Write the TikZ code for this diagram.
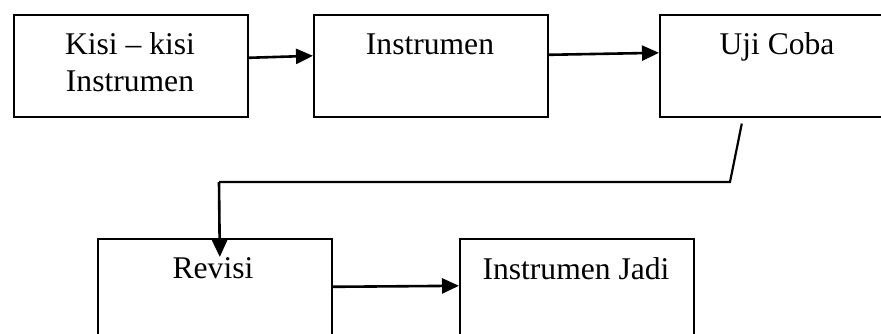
\documentclass[tikz,border=0pt]{standalone}
\usepackage{fontspec}
\setmainfont{Liberation Serif}
\usetikzlibrary{arrows.meta}
\begin{document}
\begin{tikzpicture}[x=1pt,y=-1pt,
  box/.style={draw=black, line width=1.6pt, minimum width=234pt, minimum height=102pt, inner sep=0pt, anchor=north west},
  lbl/.style={font=\fontsize{31.6}{37}\selectfont, inner sep=0pt, anchor=base, align=center},
  conn/.style={line width=2.6pt, -{Triangle[length=17pt,width=15pt]}},
  plain/.style={line width=2.2pt}]
\useasboundingbox (0,0) rectangle (881,334);
\clip (0,0) rectangle (881,334);
\fill[white] (0,0) rectangle (881,334);
\node[box] (b1) at (13,14) {};
\node[box] (b2) at (313,14) {};
\node[box] (b3) at (659,14) {};
\node[box] (b4) at (97,238) {};
\node[box] (b5) at (459,238) {};
\node[lbl] (t1) at (130,92) {Kisi – kisi\\Instrumen};
\node[lbl] (t2) at (430,55) {Instrumen};
\node[lbl] (t3) at (777,55) {Uji Coba};
\node[lbl] (t4) at (213,278) {Revisi};
\node[lbl] (t5) at (576,279) {Instrumen Jadi};
\draw[conn] ([yshift=8pt]b1.east) -- ([yshift=10pt]b2.west);
\draw[conn] ([yshift=11pt]b2.east) -- ([yshift=13pt]b3.west);
\coordinate (c1) at (730,182);
\coordinate (c2) at (219,182);
\draw[plain] ([xshift=-35pt,yshift=-6pt]b3.south) -- (c1) -- (c2);
\draw[conn] (c2) -- ([xshift=5pt,yshift=-19pt]b4.north);
\draw[conn] ([yshift=3pt]b4.east) -- ([yshift=4pt]b5.west);
\end{tikzpicture}
\end{document}
